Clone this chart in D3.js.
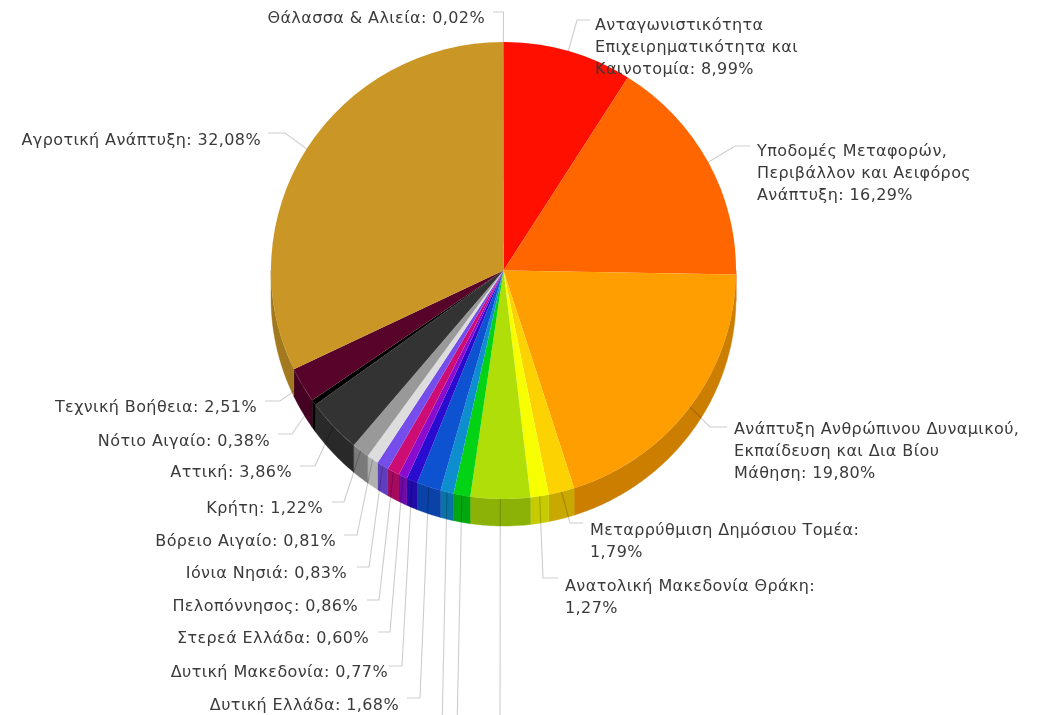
<!DOCTYPE html>
<html><head><meta charset="utf-8">
<script src="https://cdn.jsdelivr.net/npm/d3@7"></script>
<style>html,body{margin:0;padding:0;background:#fff;overflow:hidden}svg{display:block;filter:blur(0.4px)}text{font-family:"DejaVu Sans",Verdana,sans-serif;font-size:16px;letter-spacing:.4px;fill:#3a3a3a}</style>
</head><body><svg width="1038" height="715"></svg>
<script>
// Data (slices clockwise from 12 o'clock). Null names: labels fall outside the visible picture.
const categories = ["Ανταγωνιστικότητα\nΕπιχειρηματικότητα και\nΚαινοτομία","Υποδομές Μεταφορών,\nΠεριβάλλον και Αειφόρος\nΑνάπτυξη","Ανάπτυξη Ανθρώπινου Δυναμικού,\nΕκπαίδευση και Δια Βίου\nΜάθηση","Μεταρρύθμιση Δημόσιου Τομέα","Ανατολική Μακεδονία Θράκη",null,null,null,"Δυτική Ελλάδα","Δυτική Μακεδονία","Στερεά Ελλάδα","Πελοπόννησος","Ιόνια Νησιά","Βόρειο Αιγαίο","Κρήτη","Αττική","Νότιο Αιγαίο","Τεχνική Βοήθεια","Αγροτική Ανάπτυξη","Θάλασσα & Αλιεία"];
const values = [8.99,16.29,19.80,1.79,1.27,4.14,1.15,0.93,1.68,0.77,0.60,0.86,0.83,0.81,1.22,3.86,0.38,2.51,32.08,0.02];
const colors = ["#FF0F00","#FF6600","#FF9E01","#FCD202","#F8FF01","#B0DE09","#04D215","#0D8ECF","#0D52D1","#2A0CD0","#8A0CCF","#CD0D74","#754DEB","#DDDDDD","#999999","#333333","#000000","#57032A","#CA9726","#990000"];
const valueOnOwnLine = new Set([3,4]);

// Layout
const cx=503.5, cy=270.5, rx=232.5, ry=228.5, depth=27;
// [elbow x, elbow y, label-side x, text x, first line centre y, anchor]
const leaders = [
 [577,20,590,595,25,"start"],[735,146,750,757,151,"start"],[710,427,727,734,429,"start"],
 [570,523,583,590,530,"start"],[543,578,558,565,586,"start"],
 [500,730,500,null,null,null],[457,730,457,null,null,null],[442,730,442,null,null,null],
 [420,698,407,399,705,"end"],[402,666,389,388,672,"end"],[390,632,378,369,638,"end"],
 [379,600,367,358,606,"end"],[369,567,357,347,573,"end"],[357,535,344,336,541,"end"],
 [344,502,332,323,508,"end"],[315,466,300,292,472,"end"],[292,434,278,270,441,"end"],
 [280,401,265,257,407,"end"],[285,133,268,261,140,"end"],[503.5,12,493,485,18,"end"]];

const svg=d3.select("svg");
const arcs=d3.pie().sort(null).value(d=>d)(values);
const px=a=>cx+rx*Math.sin(a), py=a=>cy-ry*Math.cos(a);

// 3D side walls: only the part of each slice facing the viewer
const wall=d3.area().x(a=>px(a)).y0(a=>py(a)).y1(a=>py(a)+depth);
const sides=svg.append("g"), tops=svg.append("g"), lines=svg.append("g"), labels=svg.append("g");
arcs.forEach((d,i)=>{
  const a0=Math.max(d.startAngle,Math.PI/2), a1=Math.min(d.endAngle,Math.PI*1.5);
  if(a1<=a0) return;
  const n=Math.max(2,Math.ceil((a1-a0)/0.01));
  const c=d3.rgb(colors[i]); const dark=d3.rgb(c.r*.8,c.g*.8,c.b*.8);
  sides.append("path").attr("d",wall(d3.range(n+1).map(k=>a0+(a1-a0)*k/n))).attr("fill",dark).attr("stroke",dark).attr("stroke-width",.4);
});
// Top face
const arcGen=d3.arc().innerRadius(0).outerRadius(1);
tops.attr("transform",`translate(${cx},${cy}) scale(${rx},${ry})`);
tops.selectAll("path").data(arcs).join("path").attr("d",arcGen).attr("fill",(d,i)=>colors[i]);

// Leaders and labels
arcs.forEach((d,i)=>{
  const [ex,ey,lx,tx,ty,anchor]=leaders[i];
  const m=(d.startAngle+d.endAngle)/2;
  lines.append("path").attr("fill","none").attr("stroke","#000").attr("stroke-opacity",.2).attr("stroke-width",1.1)
    .attr("d",d3.line()([[px(m),py(m)],[ex,ey],[lx,ey]]));
  if(categories[i]===null) return;
  const v=values[i].toFixed(2).replace(".",",")+"%";
  const str=categories[i]+":"+(valueOnOwnLine.has(i)?"\n":" ")+v;
  const t=labels.append("text").attr("text-anchor",anchor);
  str.split("\n").forEach((s,k)=>t.append("tspan").attr("x",tx).attr("y",ty+5+k*22).text(s));
});
</script></body></html>
